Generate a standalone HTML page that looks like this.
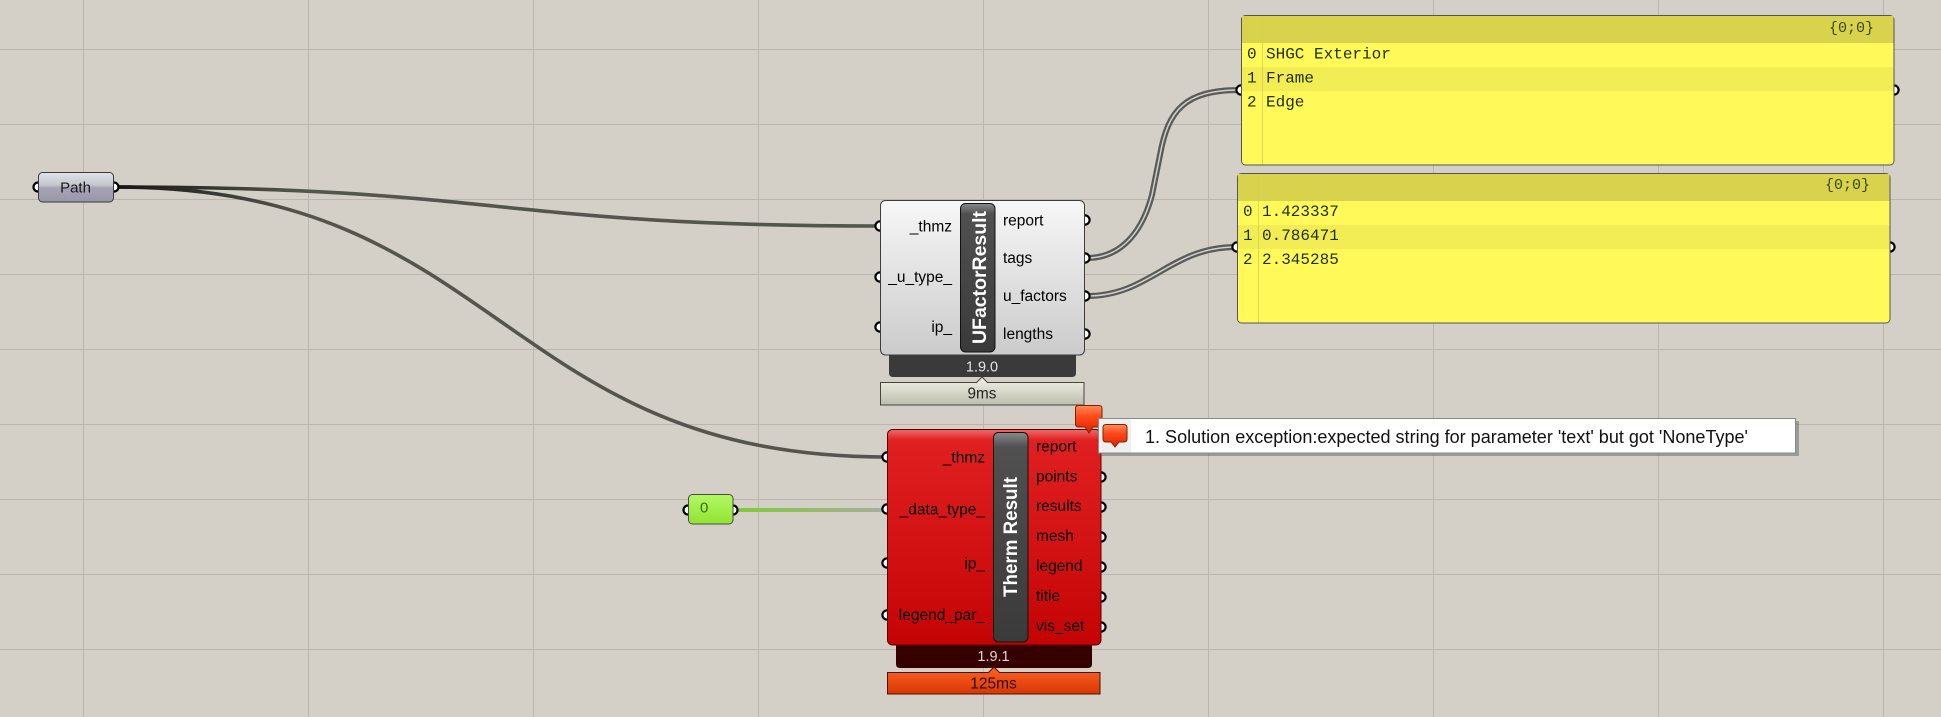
<!DOCTYPE html>
<html>
<head>
<meta charset="utf-8">
<style>
html,body{margin:0;padding:0;background:#d4d0c8;overflow:hidden;}
svg{display:block;}
.lbl{font-family:"Liberation Sans",Arial,sans-serif;font-size:15.5px;fill:#000;}
.mono{font-family:"Liberation Mono","Courier New",monospace;font-size:16px;fill:#22300c;}
</style>
</head>
<body>
<svg width="1941" height="717" viewBox="0 0 1941 717" xmlns="http://www.w3.org/2000/svg">
<defs>
  <linearGradient id="ufBody" x1="0" y1="0" x2="0" y2="1">
    <stop offset="0" stop-color="#f7f7f7"/>
    <stop offset="0.45" stop-color="#e3e3e3"/>
    <stop offset="1" stop-color="#cbcbcb"/>
  </linearGradient>
  <linearGradient id="title" x1="0" y1="0" x2="0" y2="1">
    <stop offset="0" stop-color="#8a8a8a"/>
    <stop offset="0.07" stop-color="#505050"/>
    <stop offset="1" stop-color="#3a3a3a"/>
  </linearGradient>
  <linearGradient id="thBody" x1="0" y1="0" x2="0" y2="1">
    <stop offset="0" stop-color="#f06a6a"/>
    <stop offset="0.05" stop-color="#e02020"/>
    <stop offset="0.5" stop-color="#d41414"/>
    <stop offset="1" stop-color="#c40404"/>
  </linearGradient>
  <linearGradient id="tipGray" x1="0" y1="0" x2="0" y2="1">
    <stop offset="0" stop-color="#e8e8dc"/>
    <stop offset="1" stop-color="#bdbdaf"/>
  </linearGradient>
  <linearGradient id="tipOrange" x1="0" y1="0" x2="0" y2="1">
    <stop offset="0" stop-color="#f65a1c"/>
    <stop offset="1" stop-color="#d83606"/>
  </linearGradient>
  <linearGradient id="pathBody" x1="0" y1="0" x2="0" y2="1">
    <stop offset="0" stop-color="#e2e2ea"/>
    <stop offset="0.42" stop-color="#c6c6ce"/>
    <stop offset="0.52" stop-color="#a6a4b4"/>
    <stop offset="1" stop-color="#9896a8"/>
  </linearGradient>
  <linearGradient id="greenBody" x1="0" y1="0" x2="0" y2="1">
    <stop offset="0" stop-color="#b2f864"/>
    <stop offset="1" stop-color="#90e430"/>
  </linearGradient>
  <linearGradient id="greenWire" gradientUnits="userSpaceOnUse" x1="734" y1="0" x2="887" y2="0">
    <stop offset="0" stop-color="#7ccc38"/>
    <stop offset="0.5" stop-color="#94bc6c"/>
    <stop offset="1" stop-color="#a8ac9c"/>
  </linearGradient>
  <linearGradient id="darkWire" gradientUnits="userSpaceOnUse" x1="116" y1="0" x2="300" y2="0">
    <stop offset="0" stop-color="#151515"/>
    <stop offset="1" stop-color="#55554f"/>
  </linearGradient>
  <linearGradient id="balloon" x1="0" y1="0" x2="0" y2="1">
    <stop offset="0" stop-color="#ff8a5a"/>
    <stop offset="0.4" stop-color="#ff4a1a"/>
    <stop offset="1" stop-color="#e02000"/>
  </linearGradient>
</defs>

<!-- grid -->
<g stroke="#bbb7af" stroke-width="1">
  <line x1="83.5" y1="0" x2="83.5" y2="717"/>
  <line x1="308.5" y1="0" x2="308.5" y2="717"/>
  <line x1="533.5" y1="0" x2="533.5" y2="717"/>
  <line x1="758.5" y1="0" x2="758.5" y2="717"/>
  <line x1="983.5" y1="0" x2="983.5" y2="717"/>
  <line x1="1208.5" y1="0" x2="1208.5" y2="717"/>
  <line x1="1433.5" y1="0" x2="1433.5" y2="717"/>
  <line x1="1658.5" y1="0" x2="1658.5" y2="717"/>
  <line x1="1883.5" y1="0" x2="1883.5" y2="717"/>
  <line x1="0" y1="49.5" x2="1941" y2="49.5"/>
  <line x1="0" y1="124.5" x2="1941" y2="124.5"/>
  <line x1="0" y1="199.5" x2="1941" y2="199.5"/>
  <line x1="0" y1="274.5" x2="1941" y2="274.5"/>
  <line x1="0" y1="349.5" x2="1941" y2="349.5"/>
  <line x1="0" y1="424.5" x2="1941" y2="424.5"/>
  <line x1="0" y1="499.5" x2="1941" y2="499.5"/>
  <line x1="0" y1="574.5" x2="1941" y2="574.5"/>
  <line x1="0" y1="649.5" x2="1941" y2="649.5"/>
</g>

<!-- wires -->
<g fill="none">
  <path d="M116,187 C498,187 498,226 880,226" stroke="url(#darkWire)" stroke-width="3.6"/>
  <path d="M116,187 C501,187 502,457 887,457" stroke="url(#darkWire)" stroke-width="3.6"/>
  <path d="M734,510 L887,510" stroke="url(#greenWire)" stroke-width="4"/>
  <!-- double list wires -->
  <path d="M1087,258 C1115,258 1140,240 1152,195 L1160,155 C1168,110 1185,90 1240,90" stroke="#5a5a58" stroke-width="6"/>
  <path d="M1087,258 C1115,258 1140,240 1152,195 L1160,155 C1168,110 1185,90 1240,90" stroke="#cfcfcb" stroke-width="1.5"/>
  <path d="M1087,296 C1150,296 1170,247 1236,247" stroke="#5a5a58" stroke-width="6"/>
  <path d="M1087,296 C1150,296 1170,247 1236,247" stroke="#cfcfcb" stroke-width="1.5"/>
</g>

<!-- Path node -->
<g>
  <circle cx="38" cy="187" r="4.5" fill="#fff" stroke="#000" stroke-width="2.2"/>
  <circle cx="114" cy="187" r="4.5" fill="#fff" stroke="#000" stroke-width="2.2"/>
  <rect x="38.5" y="172.5" width="75" height="29.5" rx="4" fill="url(#pathBody)" stroke="#3a3a3a" stroke-width="1"/>
  <text x="75.5" y="192.5" text-anchor="middle" font-family="Liberation Sans, Arial, sans-serif" font-size="15" fill="#1a1a1a">Path</text>
</g>

<!-- Green number node -->
<g>
  <circle cx="688" cy="510" r="4.5" fill="#fff" stroke="#000" stroke-width="2.2"/>
  <circle cx="733" cy="510" r="4.5" fill="#fff" stroke="#000" stroke-width="2.2"/>
  <rect x="688.5" y="494.5" width="44.5" height="29.5" rx="4" fill="url(#greenBody)" stroke="#4a4a4a" stroke-width="1"/>
  <text x="700" y="512.5" font-family="Liberation Sans, Arial, sans-serif" font-size="15" fill="#3c6a12">0</text>
</g>

<!-- UFactorResult -->
<g>
  <!-- ports -->
  <g fill="#fff" stroke="#000" stroke-width="2.2">
    <circle cx="880" cy="226" r="4.6"/>
    <circle cx="880" cy="277" r="4.6"/>
    <circle cx="880" cy="327" r="4.6"/>
    <circle cx="1085" cy="220" r="4.6"/>
    <circle cx="1085" cy="258" r="4.6"/>
    <circle cx="1085" cy="296" r="4.6"/>
    <circle cx="1085" cy="334" r="4.6"/>
  </g>
  <!-- footer -->
  <path d="M889,350 L1076,350 L1076,373 Q1076,377 1072,377 L893,377 Q889,377 889,373 Z" fill="#3a3a3a"/>
  <text x="982" y="371.5" text-anchor="middle" font-family="Liberation Sans, Arial, sans-serif" font-size="14.5" fill="#e6e6e6">1.9.0</text>
  <!-- body -->
  <rect x="880.5" y="200.5" width="204" height="154.5" rx="5" fill="url(#ufBody)" stroke="#3c3c3c" stroke-width="1"/>
  <!-- title bar -->
  <rect x="960.5" y="203.5" width="34.5" height="148.5" rx="5" fill="url(#title)" stroke="#111" stroke-width="1"/>
  <text transform="translate(986,277.5) rotate(-90)" text-anchor="middle" font-family="Liberation Sans, Arial, sans-serif" font-weight="bold" font-size="19.5" fill="#fff" textLength="133" lengthAdjust="spacingAndGlyphs">UFactorResult</text>
  <!-- labels -->
  <text class="lbl" x="952" y="231.5" text-anchor="end">_thmz</text>
  <text class="lbl" x="952" y="282" text-anchor="end">_u_type_</text>
  <text class="lbl" x="952" y="332" text-anchor="end">ip_</text>
  <text class="lbl" x="1003" y="225.5">report</text>
  <text class="lbl" x="1003" y="263">tags</text>
  <text class="lbl" x="1003" y="301">u_factors</text>
  <text class="lbl" x="1003" y="339">lengths</text>
  <!-- tooltip -->
  <rect x="880.5" y="382.5" width="203.5" height="22.5" fill="url(#tipGray)" stroke="#454540" stroke-width="1"/>
  <path d="M976,383 L982,377 L988,383" fill="#e8e8dc" stroke="#454540" stroke-width="1"/>
  <text x="982" y="398.5" text-anchor="middle" font-family="Liberation Sans, Arial, sans-serif" font-size="15.3" fill="#222">9ms</text>
</g>

<!-- Therm Result -->
<g>
  <g fill="#fff" stroke="#000" stroke-width="2.2">
    <circle cx="887" cy="457" r="4.6"/>
    <circle cx="887" cy="509" r="4.6"/>
    <circle cx="887" cy="563" r="4.6"/>
    <circle cx="887" cy="615" r="4.6"/>
    <circle cx="1101" cy="446" r="4.6"/>
    <circle cx="1101" cy="477" r="4.6"/>
    <circle cx="1101" cy="507" r="4.6"/>
    <circle cx="1101" cy="537" r="4.6"/>
    <circle cx="1101" cy="567" r="4.6"/>
    <circle cx="1101" cy="597" r="4.6"/>
    <circle cx="1101" cy="627" r="4.6"/>
  </g>
  <path d="M896,640 L1092,640 L1092,664 Q1092,668 1088,668 L900,668 Q896,668 896,664 Z" fill="#360000"/>
  <text x="993.5" y="661" text-anchor="middle" font-family="Liberation Sans, Arial, sans-serif" font-size="14.5" fill="#e8d4d4">1.9.1</text>
  <rect x="887.5" y="429.5" width="213.5" height="215.5" rx="5" fill="url(#thBody)" stroke="#5a0000" stroke-width="1"/>
  <rect x="993.5" y="432.5" width="34.5" height="209.5" rx="5" fill="url(#title)" stroke="#111" stroke-width="1"/>
  <text transform="translate(1017,537) rotate(-90)" text-anchor="middle" font-family="Liberation Sans, Arial, sans-serif" font-weight="bold" font-size="19" fill="#fff" textLength="120" lengthAdjust="spacingAndGlyphs">Therm Result</text>
  <text class="lbl" x="985" y="462.5" text-anchor="end">_thmz</text>
  <text class="lbl" x="985" y="514.5" text-anchor="end">_data_type_</text>
  <text class="lbl" x="985" y="568.5" text-anchor="end">ip_</text>
  <text class="lbl" x="985" y="620" text-anchor="end">legend_par_</text>
  <text class="lbl" x="1036" y="451.5">report</text>
  <text class="lbl" x="1036" y="481.5">points</text>
  <text class="lbl" x="1036" y="511">results</text>
  <text class="lbl" x="1036" y="541">mesh</text>
  <text class="lbl" x="1036" y="571">legend</text>
  <text class="lbl" x="1036" y="601">title</text>
  <text class="lbl" x="1036" y="631">vis_set</text>
  <!-- tooltip -->
  <rect x="887.5" y="672.5" width="212.5" height="21.5" fill="url(#tipOrange)" stroke="#4a1400" stroke-width="1"/>
  <path d="M988,673 L994,667 L1000,673" fill="#f65a1c" stroke="#4a1400" stroke-width="1"/>
  <text x="993.5" y="688.5" text-anchor="middle" font-family="Liberation Sans, Arial, sans-serif" font-size="15.5" fill="#2a0800">125ms</text>
  <!-- error balloon -->
  <path d="M1078.5,405.5 L1099,405.5 Q1102,405.5 1102,408.5 L1102,424 Q1102,427 1099,427 L1093,427 L1089,433 L1085,427 L1078.5,427 Q1075.5,427 1075.5,424 L1075.5,408.5 Q1075.5,405.5 1078.5,405.5 Z" fill="url(#balloon)" stroke="#7a2400" stroke-width="1"/>
</g>

<!-- Error popup -->
<g>
  <rect x="1101" y="421" width="698" height="35" fill="#6e6e6e" opacity="0.55"/>
  <rect x="1098.5" y="418.5" width="697" height="34.5" fill="#fff" stroke="#8a8a8a" stroke-width="1"/>
  <rect x="1099" y="419" width="32" height="33.5" fill="#efefef"/>
  <path d="M1106,424.5 L1124,424.5 Q1127,424.5 1127,427.5 L1127,439 Q1127,442 1124,442 L1119,442 L1115,447 L1111,442 L1106,442 Q1103,442 1103,439 L1103,427.5 Q1103,424.5 1106,424.5 Z" fill="url(#balloon)" stroke="#7a2400" stroke-width="1"/>
  <text x="1145" y="443" font-family="Liberation Sans, Arial, sans-serif" font-size="18" fill="#111" textLength="603" lengthAdjust="spacingAndGlyphs">1. Solution exception:expected string for parameter 'text' but got 'NoneType'</text>
</g>

<!-- Panel 1 -->
<g>
  <circle cx="1241" cy="90" r="4.6" fill="#fff" stroke="#000" stroke-width="2.2"/>
  <circle cx="1894" cy="90" r="4.6" fill="#fff" stroke="#000" stroke-width="2.2"/>
  <rect x="1241.5" y="15.5" width="652.5" height="149.5" rx="4" fill="#fffa5a" stroke="#555" stroke-width="1"/>
  <rect x="1242" y="16" width="651.5" height="27" fill="#d8d24c"/>
  <rect x="1242" y="67" width="651.5" height="24" fill="#f2ed54"/>
  <line x1="1262.5" y1="16" x2="1262.5" y2="164.5" stroke="#d6d048" stroke-width="1" opacity="0.8"/>
  <text class="mono" x="1874" y="32" text-anchor="end" font-size="15" style="font-size:15px;fill:#3a4a10">{0;0}</text>
  <text class="mono" x="1247" y="58.5">0</text>
  <text class="mono" x="1266" y="58.5">SHGC Exterior</text>
  <text class="mono" x="1247" y="82.5">1</text>
  <text class="mono" x="1266" y="82.5">Frame</text>
  <text class="mono" x="1247" y="106.5">2</text>
  <text class="mono" x="1266" y="106.5">Edge</text>
</g>

<!-- Panel 2 -->
<g>
  <circle cx="1237" cy="247" r="4.6" fill="#fff" stroke="#000" stroke-width="2.2"/>
  <circle cx="1890" cy="247" r="4.6" fill="#fff" stroke="#000" stroke-width="2.2"/>
  <rect x="1237.5" y="173.5" width="652.5" height="149.5" rx="4" fill="#fffa5a" stroke="#555" stroke-width="1"/>
  <rect x="1238" y="174" width="651.5" height="27" fill="#d8d24c"/>
  <rect x="1238" y="225" width="651.5" height="24" fill="#f2ed54"/>
  <line x1="1258.5" y1="174" x2="1258.5" y2="322.5" stroke="#d6d048" stroke-width="1" opacity="0.8"/>
  <text class="mono" x="1870" y="189" text-anchor="end" style="font-size:15px;fill:#3a4a10">{0;0}</text>
  <text class="mono" x="1243" y="216">0</text>
  <text class="mono" x="1262" y="216">1.423337</text>
  <text class="mono" x="1243" y="240">1</text>
  <text class="mono" x="1262" y="240">0.786471</text>
  <text class="mono" x="1243" y="264">2</text>
  <text class="mono" x="1262" y="264">2.345285</text>
</g>
</svg>
</body>
</html>
